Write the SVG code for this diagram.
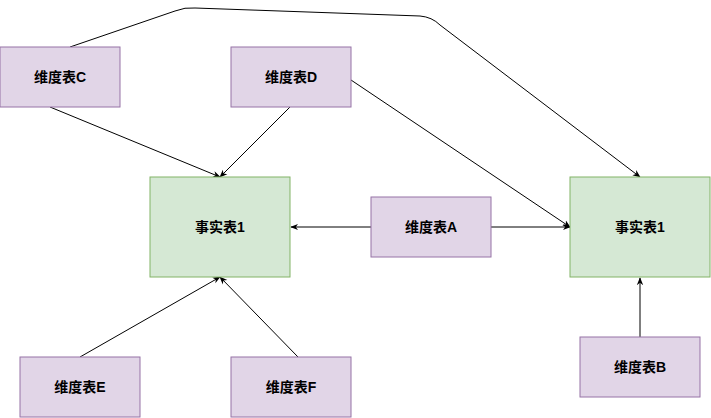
<svg xmlns="http://www.w3.org/2000/svg" width="711" height="418" viewBox="0 0 711 418">
<style>
.p{fill:#e1d5e7;stroke:#9673a6;stroke-width:1}
.g{fill:#d5e8d4;stroke:#82b366;stroke-width:1}
text{font-family:"Liberation Sans","Noto Sans CJK SC",sans-serif;font-size:14px;font-weight:bold;text-anchor:middle;dominant-baseline:central;fill:#000}
.e{fill:none;stroke:#000;stroke-width:1;marker-end:url(#a)}
</style>
<defs><marker id="a" viewBox="0 0 10 10" refX="9" refY="5" markerWidth="8" markerHeight="8" orient="auto" markerUnits="userSpaceOnUse"><path d="M0,1 L10,5 L0,9 L3,5 Z" fill="#000"/></marker></defs>
<rect width="711" height="418" fill="#fff"/>
<g id="connectors">
<path class="e" d="M50,107 L220,177"/>
<path class="e" d="M290,107 L220,177"/>
<path class="e" d="M80,357 L220,277"/>
<path class="e" d="M298,357 L220,277"/>
<path class="e" d="M371,227 L291,227"/>
<path class="e" d="M491,227 L570,227"/>
<path class="e" d="M351,80 L570,227"/>
<path class="e" d="M640,337 L640,278"/>
<path class="e" d="M70,47 L175,11 Q185,7 195,8 L420,16 Q432,17 440,25 L640,177"/>
</g>
<g id="C"><rect class="p" x="0" y="47" width="120" height="60"/><text x="60" y="77">维度表C</text></g>
<g id="D"><rect class="p" x="231" y="47" width="120" height="60"/><text x="291" y="77">维度表D</text></g>
<g id="F1"><rect class="g" x="150" y="177" width="140" height="100"/><text x="220" y="227">事实表1</text></g>
<g id="A"><rect class="p" x="371" y="197" width="120" height="60"/><text x="431" y="227">维度表A</text></g>
<g id="F2"><rect class="g" x="570" y="177" width="140" height="100"/><text x="640" y="227">事实表1</text></g>
<g id="E"><rect class="p" x="20" y="357" width="120" height="60"/><text x="80" y="387">维度表E</text></g>
<g id="F"><rect class="p" x="231" y="357" width="120" height="60"/><text x="291" y="387">维度表F</text></g>
<g id="B"><rect class="p" x="580" y="337" width="120" height="60"/><text x="640" y="367">维度表B</text></g>
</svg>
